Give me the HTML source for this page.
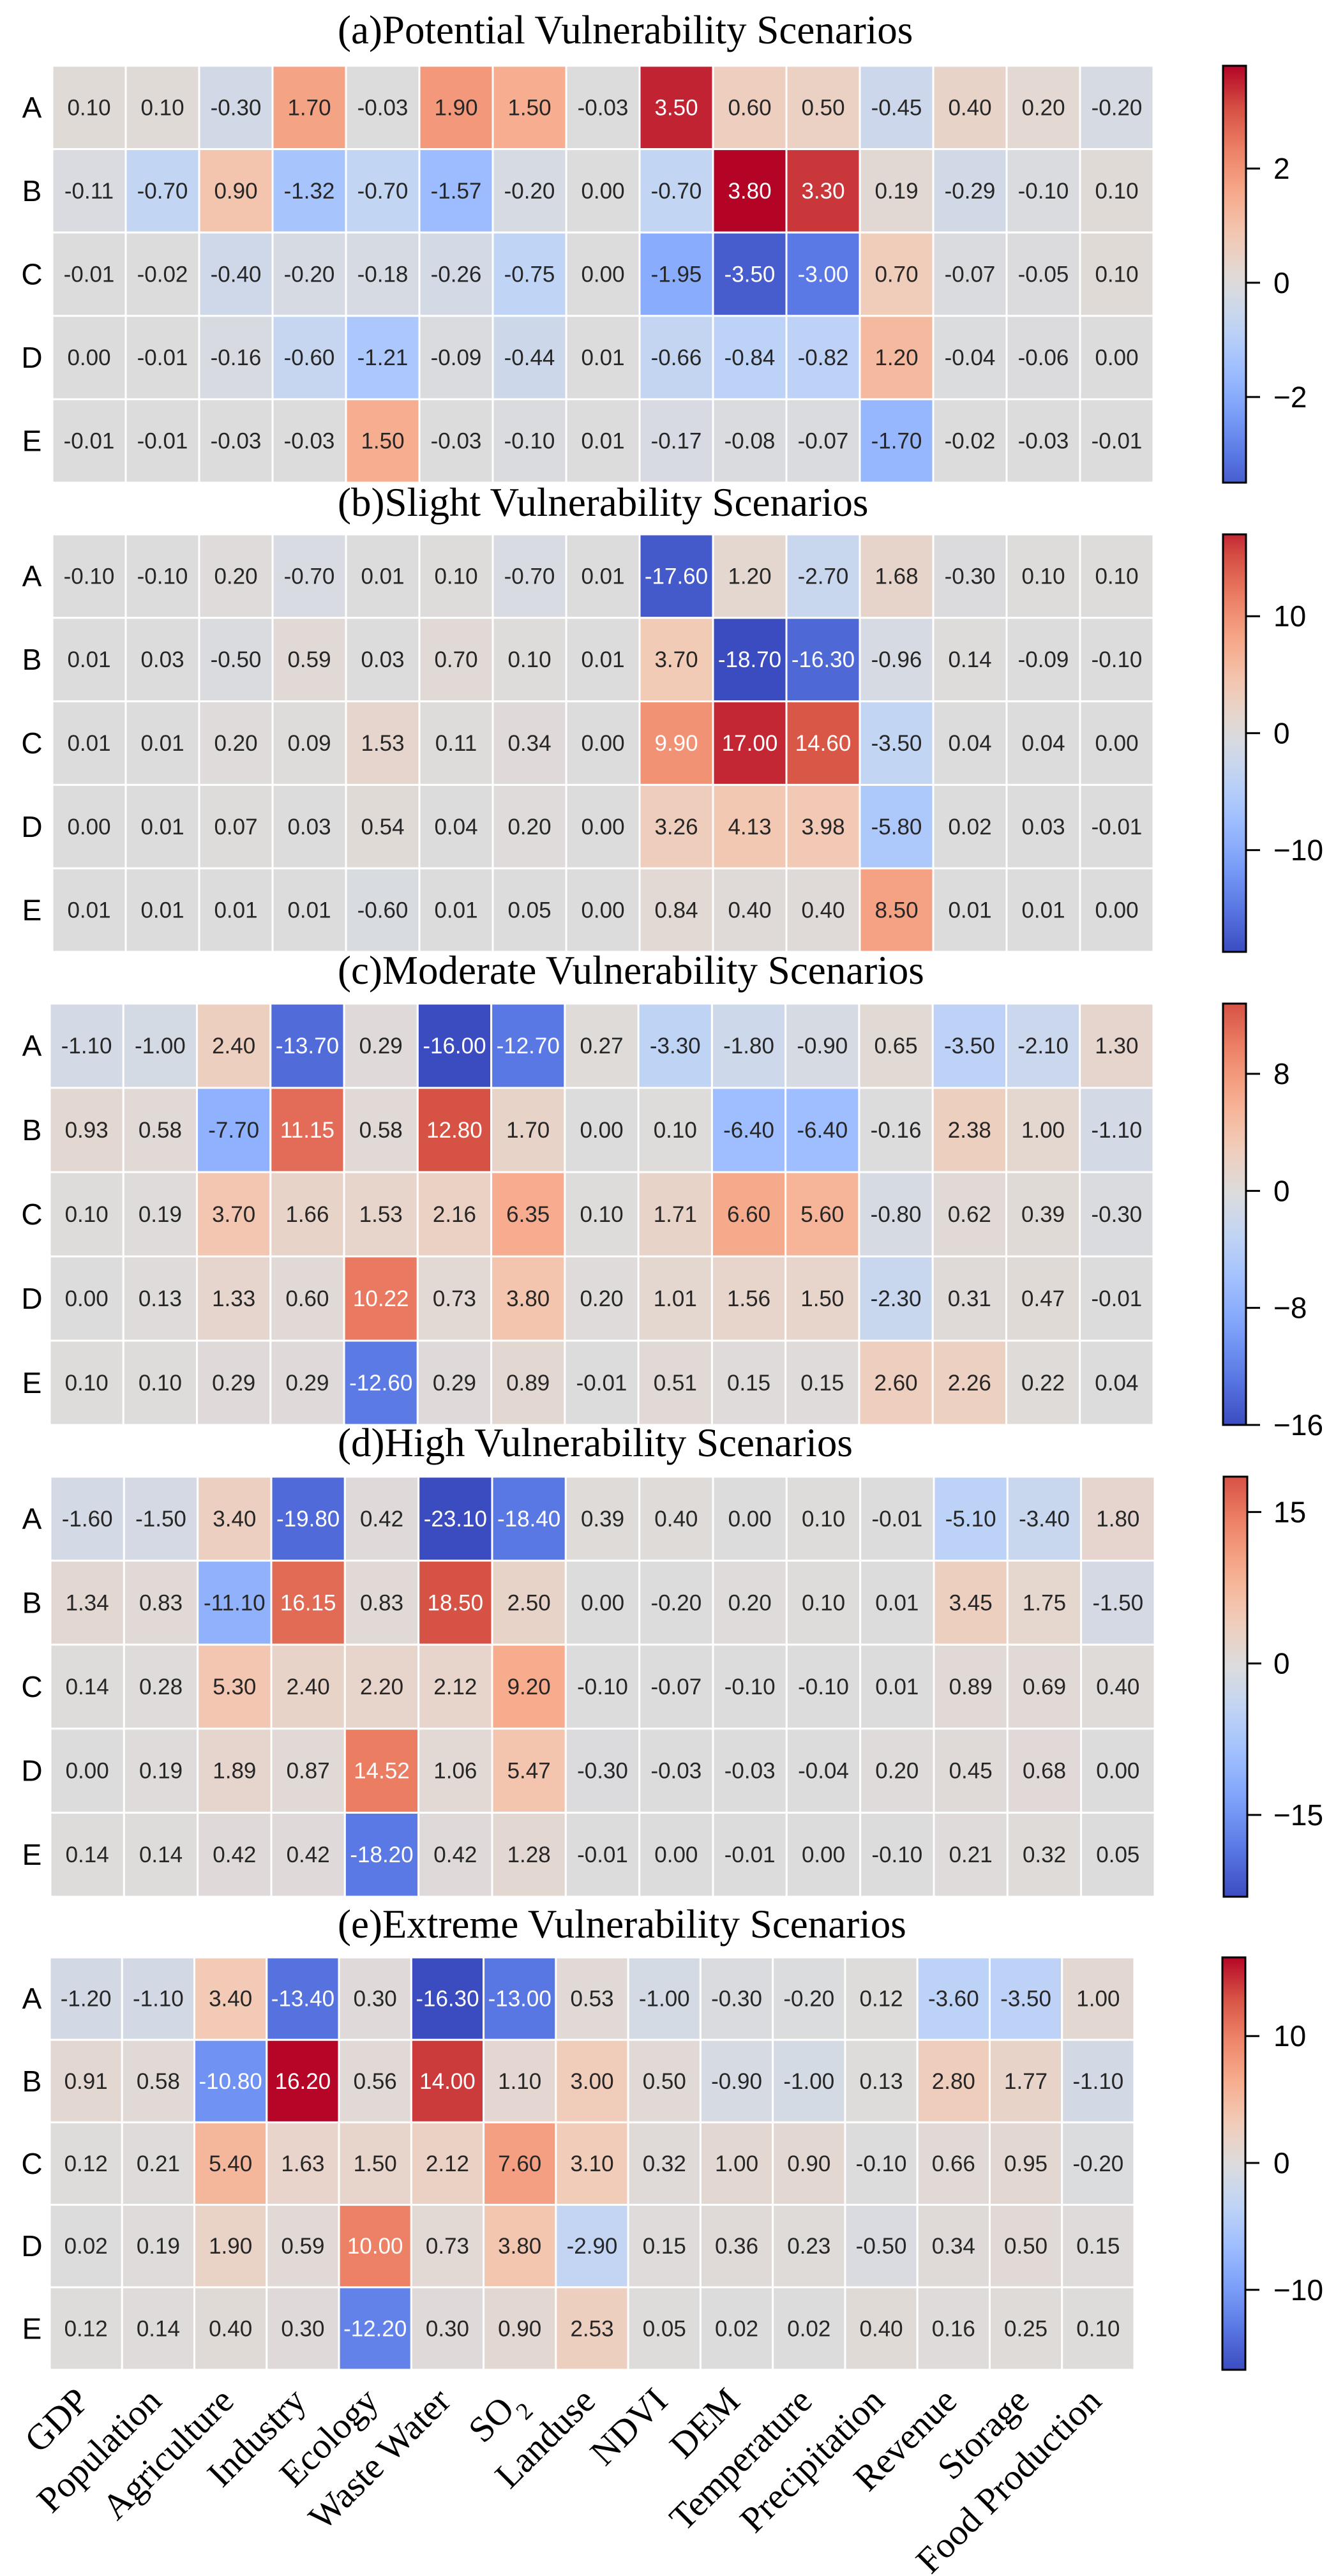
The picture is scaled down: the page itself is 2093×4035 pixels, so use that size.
<!DOCTYPE html>
<html><head><meta charset="utf-8">
<style>
html,body{margin:0;padding:0;background:#fff;}
svg{display:block;}
</style></head>
<body>
<svg id="fig" xmlns="http://www.w3.org/2000/svg" width="2093" height="4035" viewBox="0 0 2093 4035">
<defs id="defs"></defs>
</svg>
<script>
const columns = ["GDP","Population","Agriculture","Industry","Ecology","Waste Water","SO2","Landuse","NDVI","DEM","Temperature","Precipitation","Revenue","Storage","Food Production"];
const rowsLabels = ["A","B","C","D","E"];
const titles = ["(a)Potential Vulnerability Scenarios","(b)Slight Vulnerability Scenarios","(c)Moderate Vulnerability Scenarios","(d)High Vulnerability Scenarios","(e)Extreme Vulnerability Scenarios"];
const valuesA = [
[0.10,0.10,-0.30,1.70,-0.03,1.90,1.50,-0.03,3.50,0.60,0.50,-0.45,0.40,0.20,-0.20],
[-0.11,-0.70,0.90,-1.32,-0.70,-1.57,-0.20,0.00,-0.70,3.80,3.30,0.19,-0.29,-0.10,0.10],
[-0.01,-0.02,-0.40,-0.20,-0.18,-0.26,-0.75,0.00,-1.95,-3.50,-3.00,0.70,-0.07,-0.05,0.10],
[0.00,-0.01,-0.16,-0.60,-1.21,-0.09,-0.44,0.01,-0.66,-0.84,-0.82,1.20,-0.04,-0.06,0.00],
[-0.01,-0.01,-0.03,-0.03,1.50,-0.03,-0.10,0.01,-0.17,-0.08,-0.07,-1.70,-0.02,-0.03,-0.01]];
const valuesB = [
[-0.10,-0.10,0.20,-0.70,0.01,0.10,-0.70,0.01,-17.60,1.20,-2.70,1.68,-0.30,0.10,0.10],
[0.01,0.03,-0.50,0.59,0.03,0.70,0.10,0.01,3.70,-18.70,-16.30,-0.96,0.14,-0.09,-0.10],
[0.01,0.01,0.20,0.09,1.53,0.11,0.34,0.00,9.90,17.00,14.60,-3.50,0.04,0.04,0.00],
[0.00,0.01,0.07,0.03,0.54,0.04,0.20,0.00,3.26,4.13,3.98,-5.80,0.02,0.03,-0.01],
[0.01,0.01,0.01,0.01,-0.60,0.01,0.05,0.00,0.84,0.40,0.40,8.50,0.01,0.01,0.00]];
const valuesC = [
[-1.10,-1.00,2.40,-13.70,0.29,-16.00,-12.70,0.27,-3.30,-1.80,-0.90,0.65,-3.50,-2.10,1.30],
[0.93,0.58,-7.70,11.15,0.58,12.80,1.70,0.00,0.10,-6.40,-6.40,-0.16,2.38,1.00,-1.10],
[0.10,0.19,3.70,1.66,1.53,2.16,6.35,0.10,1.71,6.60,5.60,-0.80,0.62,0.39,-0.30],
[0.00,0.13,1.33,0.60,10.22,0.73,3.80,0.20,1.01,1.56,1.50,-2.30,0.31,0.47,-0.01],
[0.10,0.10,0.29,0.29,-12.60,0.29,0.89,-0.01,0.51,0.15,0.15,2.60,2.26,0.22,0.04]];
const valuesD = [
[-1.60,-1.50,3.40,-19.80,0.42,-23.10,-18.40,0.39,0.40,0.00,0.10,-0.01,-5.10,-3.40,1.80],
[1.34,0.83,-11.10,16.15,0.83,18.50,2.50,0.00,-0.20,0.20,0.10,0.01,3.45,1.75,-1.50],
[0.14,0.28,5.30,2.40,2.20,2.12,9.20,-0.10,-0.07,-0.10,-0.10,0.01,0.89,0.69,0.40],
[0.00,0.19,1.89,0.87,14.52,1.06,5.47,-0.30,-0.03,-0.03,-0.04,0.20,0.45,0.68,0.00],
[0.14,0.14,0.42,0.42,-18.20,0.42,1.28,-0.01,0.00,-0.01,0.00,-0.10,0.21,0.32,0.05]];
const valuesE = [
[-1.20,-1.10,3.40,-13.40,0.30,-16.30,-13.00,0.53,-1.00,-0.30,-0.20,0.12,-3.60,-3.50,1.00],
[0.91,0.58,-10.80,16.20,0.56,14.00,1.10,3.00,0.50,-0.90,-1.00,0.13,2.80,1.77,-1.10],
[0.12,0.21,5.40,1.63,1.50,2.12,7.60,3.10,0.32,1.00,0.90,-0.10,0.66,0.95,-0.20],
[0.02,0.19,1.90,0.59,10.00,0.73,3.80,-2.90,0.15,0.36,0.23,-0.50,0.34,0.50,0.15],
[0.12,0.14,0.40,0.30,-12.20,0.30,0.90,2.53,0.05,0.02,0.02,0.40,0.16,0.25,0.10]];
const ticksA = [2,0,-2];
const ticksB = [10,0,-10];
const ticksC = [8,0,-8,-16];
const ticksD = [15,0,-15];
const ticksE = [10,0,-10];

const panels = [
 {vals:valuesA, ticks:ticksA, x0:82, x1:1807, y0:103, y1:756, ty:68, cx0:1916, cx1:1952},
 {vals:valuesB, ticks:ticksB, x0:82, x1:1807, y0:837, y1:1491, ty:808, cx0:1916, cx1:1952},
 {vals:valuesC, ticks:ticksC, x0:78, x1:1807, y0:1572, y1:2232, ty:1541, cx0:1916, cx1:1952},
 {vals:valuesD, ticks:ticksD, x0:79, x1:1809, y0:2313, y1:2971, ty:2281, cx0:1917, cx1:1954},
 {vals:valuesE, ticks:ticksE, x0:78, x1:1777, y0:3066, y1:3712, ty:3035, cx0:1915, cx1:1951}
];
const stops = ["#3b4cc0","#5977e3","#7b9ff9","#9ebeff","#c0d4f5","#dddcdc","#f2cbb7","#f7ac8e","#ee8468","#d65244","#b40426"].map(h=>[parseInt(h.slice(1,3),16),parseInt(h.slice(3,5),16),parseInt(h.slice(5,7),16)]);
function cmap(t){t=Math.max(0,Math.min(1,t));const p=t*10;const i=Math.min(9,Math.floor(p));const f=p-i;const a=stops[i],b=stops[i+1];return [0,1,2].map(k=>Math.round(a[k]+(b[k]-a[k])*f));}
function lum(c){const l=c.map(v=>{v/=255;return v<=0.03928?v/12.92:Math.pow((v+0.055)/1.055,2.4);});return 0.2126*l[0]+0.7152*l[1]+0.0722*l[2];}
const NS="http://www.w3.org/2000/svg";
const svg=document.getElementById('fig');
const defs=document.getElementById('defs');
function mk(tag,attrs,parent){const e=document.createElementNS(NS,tag);for(const k in attrs)e.setAttribute(k,attrs[k]);(parent||svg).appendChild(e);return e;}
const rgb=c=>`rgb(${c[0]},${c[1]},${c[2]})`;
const SANS='"Liberation Sans", "DejaVu Sans", sans-serif';
const SERIF='"Liberation Serif", "DejaVu Serif", serif';

panels.forEach((p,pi)=>{
  const g=mk('g',{});
  
  
  const flat=p.vals.flat();
  const vmin=Math.min(...flat), vmax=Math.max(...flat);
  const m=Math.max(Math.abs(vmin),Math.abs(vmax));
  const norm=v=>0.5+v/(2*m);
  const nC=columns.length,nR=rowsLabels.length;
  const cw=(p.x1-p.x0)/nC, rh=(p.y1-p.y0)/nR;
  const xOf=j=>p.x0+j*cw, yOf=i=>p.y0+i*rh;
  const gid='cw'+pi;
  const lg=mk('linearGradient',{id:gid,x1:0,y1:1,x2:0,y2:0},defs);
  for(let k=0;k<=20;k++){
    const f=k/20; const v=vmin+(vmax-vmin)*f;
    mk('stop',{offset:f,'stop-color':rgb(cmap(norm(v)))},lg);
  }
  const t=mk('text',{x:529,y:p.ty,'font-family':SERIF,'font-size':63,fill:'#000'},g);
  t.textContent=titles[pi];
  
  
  p.vals.forEach((row,i)=>{
    row.forEach((v,j)=>{
      const c=cmap(norm(v));
      const r=mk('rect',{x:xOf(j),y:yOf(i),width:cw,height:rh,fill:rgb(c),stroke:'#fff','stroke-width':3},g);
      
      
      const tx=mk('text',{x:xOf(j)+cw/2,y:yOf(i)+rh/2+12,'text-anchor':'middle','font-family':SANS,'font-size':35,fill:lum(c)<0.408?'#fff':'#262626'},g);
      tx.textContent=v.toFixed(2);
      
      
    });
  });
  rowsLabels.forEach((lab,i)=>{
    const tx=mk('text',{x:50,y:yOf(i)+rh/2+16,'text-anchor':'middle','font-family':SANS,'font-size':46,fill:'#000'},g);
    tx.textContent=lab;
    
    
  });
  const cb=mk('rect',{x:p.cx0,y:p.y0,width:p.cx1-p.cx0,height:p.y1-p.y0,fill:`url(#${gid})`,stroke:'#000','stroke-width':3},g);
  
  
  const cbY=v=>p.y1-(v-vmin)/(vmax-vmin)*(p.y1-p.y0);
  p.ticks.forEach(tv=>{
    const y=cbY(tv);
    const tk=mk('line',{x1:p.cx1,x2:p.cx1+22,y1:y,y2:y,stroke:'#000','stroke-width':3},g);
    
    
    const tl=mk('text',{x:1995,y:y+16,'font-family':SANS,'font-size':46,fill:'#000'},g);
    tl.textContent=tv<0?'\u2212'+Math.abs(tv):String(tv);
    
    
  });
  if(pi===4){
    columns.forEach((lab,j)=>{
      const cx=xOf(j)+cw/2+8, cy=p.y1+52;
      const tx=mk('text',{x:0,y:0,transform:`translate(${cx},${cy}) rotate(-45)`,'text-anchor':'end','font-family':SERIF,'font-size':57,fill:'#000'},g);
      if(lab==='SO2'){
        tx.textContent='SO';
        const s=mk('tspan',{'font-size':38,'baseline-shift':'sub'},tx);
        s.textContent='2';
      } else tx.textContent=lab;
      
      
    });
  }
});
</script>
</body></html>
